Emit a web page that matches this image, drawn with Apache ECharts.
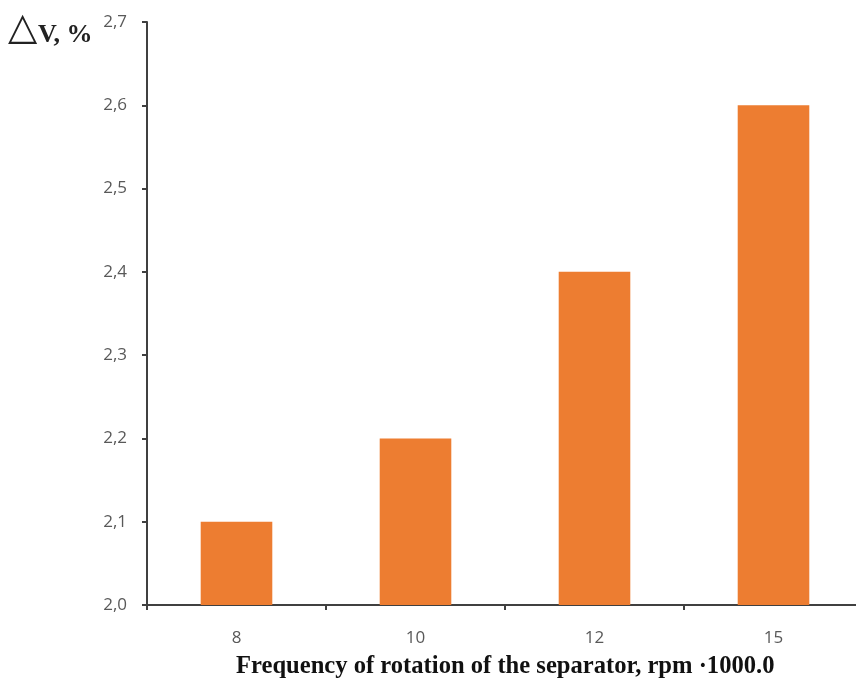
<!DOCTYPE html>
<html>
<head>
<meta charset="utf-8">
<script src="https://cdn.jsdelivr.net/npm/echarts@6/dist/echarts.min.js"></script>
<style>html,body{margin:0;padding:0;background:#fff;}#c{width:856px;height:679px;}</style>
</head>
<body>
<div id="c"></div>
<script>
const categories = ['8', '10', '12', '15'];
const values = [2.1, 2.2, 2.4, 2.6];
const yTicks = [2.0, 2.1, 2.2, 2.3, 2.4, 2.5, 2.6, 2.7];
const xTitle = 'Frequency of rotation of the separator, rpm \u00b71000.0';
const yTitle = 'V, %';

const chart = echarts.init(document.getElementById('c'), null, {renderer: 'canvas'});
chart.setOption({
  animation: false,
  backgroundColor: '#fff',
  grid: {left: 147, width: 716, top: 22, bottom: 74, containLabel: false, outerBoundsMode: 'none'},
  xAxis: {
    type: 'category',
    data: categories,
    axisLine: {lineStyle: {color: '#404040', width: 2}},
    axisTick: {show: true, alignWithLabel: false, length: 5, lineStyle: {color: '#404040', width: 2}},
    axisLabel: {color: '#595959', fontSize: 17, fontFamily: 'Open Sans', margin: 25},
    splitLine: {show: false}
  },
  yAxis: {
    type: 'value',
    min: yTicks[0],
    max: yTicks[yTicks.length - 1],
    interval: 0.1,
    axisLine: {show: true, lineStyle: {color: '#404040', width: 2}},
    axisTick: {show: true, length: 5, lineStyle: {color: '#404040', width: 2}},
    axisLabel: {color: '#595959', fontSize: 17, fontFamily: 'Open Sans', margin: 20,
      formatter: v => v.toFixed(1).replace('.', ',')},
    splitLine: {show: false}
  },
  series: [{
    type: 'bar',
    data: values,
    barWidth: '40%',
    itemStyle: {color: '#ED7D31'}
  }],
  graphic: [
    {type: 'text', left: 8, top: 10, style: {text: '\u25B3', fontSize: 38, fontFamily: 'DejaVu Sans', fill: '#222'}},
    {type: 'text', left: 38, top: 22, style: {text: yTitle, fontSize: 26, fontWeight: 'bold', fontFamily: 'Liberation Serif', fill: '#222'}},
    {type: 'text', left: 236, top: 654, style: {text: xTitle, fontSize: 24.6, fontWeight: 'bold', fontFamily: 'Liberation Serif', fill: '#111'}}
  ]
});
</script>
</body>
</html>
